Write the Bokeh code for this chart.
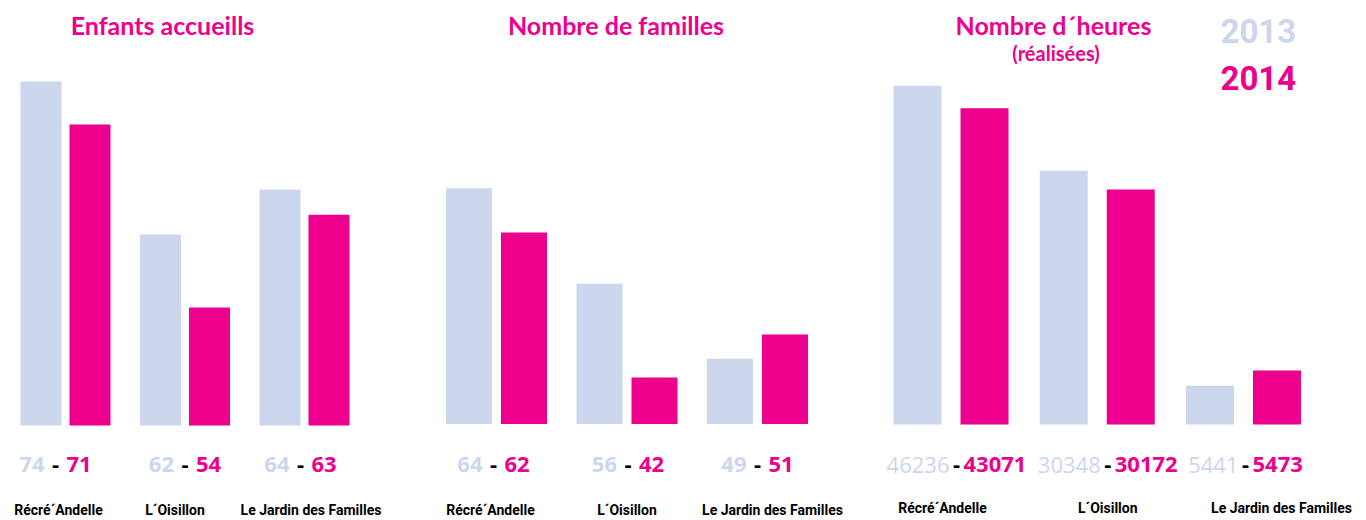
from bokeh.plotting import figure
from bokeh.layouts import row
from bokeh.models import ColumnDataSource, Range1d
from bokeh.embed import file_html
from bokeh.resources import INLINE
from bokeh.core.properties import value

# ---------------- data ----------------
sites = ["Récré´Andelle", "L´Oisillon", "Le Jardin des Familles"]
titles = ["Enfants accueills", "Nombre de familles", "Nombre d´heures"]
subtitle = "(réalisées)"
years = ["2013", "2014"]

enfants_2013 = [74, 62, 64]
enfants_2014 = [71, 54, 63]
familles_2013 = [64, 56, 49]
familles_2014 = [62, 42, 51]
heures_2013 = [46236, 30348, 5441]
heures_2014 = [43071, 30172, 5473]

# bar lengths as drawn in the picture (scale 0-100, tallest bar = 100)
enfants_bar_2013 = [100.0, 55.5, 68.6]
enfants_bar_2014 = [87.5, 34.3, 61.3]
familles_bar_2013 = [68.5, 40.8, 19.0]
familles_bar_2014 = [55.7, 13.5, 26.0]
heures_bar_2013 = [98.5, 73.8, 11.3]
heures_bar_2014 = [91.9, 68.3, 15.7]

C2013 = "#CCD7EE"
C2014 = "#EC008C"
H = 520
S = 3.44  # px per bar unit

panels = [
    dict(title=titles[0], v13=enfants_2013, v14=enfants_2014, b13=enfants_bar_2013, b14=enfants_bar_2014,
         x0=0, W=430, c0=65, pitch=119.5, bw=41, off=24.5, base=425, gap=11, bold13=True,
         lab_dx=[-10, 0, -4], cat_dx=[-7, -10, 6.5], cat_base=515, title_cx=162),
    dict(title=titles[1], v13=familles_2013, v14=familles_2014, b13=familles_bar_2013, b14=familles_bar_2014,
         x0=430, W=440, c0=66, pitch=130.5, bw=46, off=27.5, base=423.5, gap=11, bold13=True,
         lab_dx=[-3, 1, 0], cat_dx=[-6, 0, 15], cat_base=515, title_cx=615.5),
    dict(title=titles[2], v13=heures_2013, v14=heures_2014, b13=heures_bar_2013, b14=heures_bar_2014,
         x0=870, W=496, c0=80.5, pitch=146.25, bw=48, off=33.5, base=424, gap=7, bold13=False,
         lab_dx=[5.5, 10.5, 2], cat_dx=[-8.5, 10.5, 38], cat_base=513, title_cx=1053),
]

VAL_FONT = value("Open Sans")
TITLE_FONT = value("Lato")
CAT_FONT = value("Roboto")
YEAR_FONT = value("Roboto")


def fs_shift(fs):
    # empirical correction so that the visible baseline lands where wanted
    return 0.4 * fs


figs = []
for k, pc in enumerate(panels):
    pitch, c0, base = pc["pitch"], pc["c0"], pc["base"]

    def xd(px_abs, pc=pc):
        return (px_abs - pc["x0"] - pc["c0"]) / pc["pitch"]

    def yd(py, fs=0, pc=pc):
        return (pc["base"] - (py - fs_shift(fs))) / S

    p = figure(width=pc["W"], height=H, output_backend="svg", toolbar_location=None,
               x_range=Range1d(-c0 / pitch, (pc["W"] - c0) / pitch),
               y_range=Range1d((base - H) / S, base / S),
               min_border=0, outline_line_color=None, background_fill_color="white",
               border_fill_color="white")
    p.axis.visible = False
    p.grid.visible = False

    idx = list(range(len(sites)))
    off = pc["off"] / pitch
    bw = pc["bw"] / pitch
    src = ColumnDataSource(dict(
        x13=[i - off for i in idx], x14=[i + off for i in idx],
        b13=pc["b13"], b14=pc["b14"],
    ))
    p.vbar(x="x13", top="b13", bottom=0, width=bw, source=src, fill_color=C2013, line_color=None)
    p.vbar(x="x14", top="b14", bottom=0, width=bw, source=src, fill_color=C2014, line_color=None)

    # value labels "2013 - 2014"
    lab_x = [i + pc["lab_dx"][i] / pitch for i in idx]
    gap = pc["gap"] / pitch
    ylab = yd(473, 22)
    p.text(x=[x - gap for x in lab_x], y=[ylab] * 3, text=[str(v) for v in pc["v13"]],
           text_align="right", text_baseline="alphabetic", text_font=VAL_FONT, text_font_size="22px",
           text_font_style="bold" if pc["bold13"] else "normal", text_color=C2013)
    p.text(x=lab_x, y=[ylab] * 3, text=["-"] * 3, text_align="center", text_baseline="alphabetic",
           text_font=VAL_FONT, text_font_size="22px", text_font_style="bold", text_color="black")
    p.text(x=[x + gap for x in lab_x], y=[ylab] * 3, text=[str(v) for v in pc["v14"]],
           text_align="left", text_baseline="alphabetic", text_font=VAL_FONT, text_font_size="22px",
           text_font_style="bold", text_color=C2014)

    # category labels
    p.text(x=[i + pc["cat_dx"][i] / pitch for i in idx], y=[yd(pc["cat_base"], 14)] * 3, text=sites,
           text_align="center", text_baseline="alphabetic", text_font=CAT_FONT, text_font_size="14px",
           text_font_style="bold", text_color="black")

    # title
    p.text(x=[xd(pc["title_cx"])], y=[yd(34, 25)], text=[pc["title"]], text_align="center",
           text_baseline="alphabetic", text_font=TITLE_FONT, text_font_size="25px",
           text_font_style="bold", text_color=C2014)

    if k == 2:
        p.text(x=[xd(1055.5)], y=[yd(60, 20)], text=[subtitle], text_align="center",
               text_baseline="alphabetic", text_font=TITLE_FONT, text_font_size="20px",
               text_font_style="bold", text_color=C2014)
        p.text(x=[xd(1220)], y=[yd(44, 33)], text=[years[0]], text_align="left",
               text_baseline="alphabetic", text_font=YEAR_FONT, text_font_size="33px",
               text_font_style="bold", text_color=C2013)
        p.text(x=[xd(1220)], y=[yd(91, 33)], text=[years[1]], text_align="left",
               text_baseline="alphabetic", text_font=YEAR_FONT, text_font_size="33px",
               text_font_style="bold", text_color=C2014)
    figs.append(p)

layout = row(*figs, spacing=0)
open("out.html", "w").write(file_html(layout, INLINE))
